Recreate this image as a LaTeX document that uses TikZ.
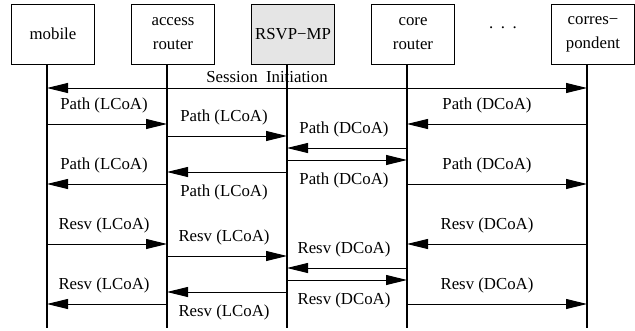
\documentclass[tikz,border=0pt]{standalone}
\usepackage{fontspec}
\setmainfont{Liberation Serif}
\usetikzlibrary{arrows.meta}
\tikzset{
  >={Triangle[length=21pt,width=10pt]},
  unit/.style={draw, line width=1pt, minimum width=83pt, minimum height=60pt,
    inner sep=0pt, align=center, font=\fontsize{16.8}{24}\selectfont},
  life/.style={line width=1.2pt},
  msg/.style={line width=0.9pt, ->},
  lbl/.style={inner sep=0pt, font=\fontsize{16.8}{20}\selectfont},
  up/.style={lbl, above=10.5pt, xshift=-3pt},
  down/.style={lbl, below=12.5pt, xshift=-3pt}
}
\begin{document}
\begin{tikzpicture}[x=1pt,y=-1pt]
    \useasboundingbox (0,0) rectangle (635,330);
    % entities
    \node[unit] (mobile) at (53,34) {mobile};
    \node[unit] (access) at (173,34) {access\\router};
    \node[unit, fill=gray!20] (mp) at (293,34) {RSVP−MP};
    \node[unit] (core) at (413,34) {core\\router};
    \node[unit] (corr) at (593,34) {corres−\\pondent};
    \node[lbl, anchor=base] (dots) at (503,28) {.\hspace{7.5pt}.\hspace{7.5pt}.};
    % lifelines
    \path ([xshift=-6pt]mobile.south) coordinate (lmobile) ++(0,263) coordinate (emobile);
    \path ([xshift=-6pt]access.south) coordinate (laccess) ++(0,263) coordinate (eaccess);
    \path ([xshift=-6pt]mp.south) coordinate (lmp) ++(0,263) coordinate (emp);
    \path ([xshift=-6pt]core.south) coordinate (lcore) ++(0,263) coordinate (ecore);
    \path ([xshift=-6pt]corr.south) coordinate (lcorr) ++(0,263) coordinate (ecorr);
    \draw[life] (lmobile) -- (emobile);
    \draw[life] (laccess) -- (eaccess);
    \draw[life] (lmp) -- (emp);
    \draw[life] (lcore) -- (ecore);
    \draw[life] (lcorr) -- (ecorr);
    % session
    \draw[msg, <->] (lmobile |- 0,88) -- node[lbl, above=4.7pt, xshift=-50pt] {Session\ \ Initiation} (lcorr |- 0,88);
    % path messages
    \draw[msg] (lmobile |- 0,124) -- node[up] {Path (LCoA)} (laccess |- 0,124);
    \draw[msg] (laccess |- 0,136) -- node[up] {Path (LCoA)} (lmp |- 0,136);
    \draw[msg] (lcorr |- 0,124) -- node[up, xshift=-7pt] {Path (DCoA)} (lcore |- 0,124);
    \draw[msg] (lcore |- 0,148) -- node[up] {Path (DCoA)} (lmp |- 0,148);
    \draw[msg] (lmp |- 0,160) -- node[down] {Path (DCoA)} (lcore |- 0,160);
    \draw[msg] (lmp |- 0,172) -- node[down] {Path (LCoA)} (laccess |- 0,172);
    \draw[msg] (laccess |- 0,184) -- node[up] {Path (LCoA)} (lmobile |- 0,184);
    \draw[msg] (lcore |- 0,184) -- node[up, xshift=-7pt] {Path (DCoA)} (lcorr |- 0,184);
    % resv messages
    \draw[msg] (lmobile |- 0,244) -- node[up] {Resv (LCoA)} (laccess |- 0,244);
    \draw[msg] (laccess |- 0,256) -- node[up] {Resv (LCoA)} (lmp |- 0,256);
    \draw[msg] (lcorr |- 0,244) -- node[up, xshift=-7pt] {Resv (DCoA)} (lcore |- 0,244);
    \draw[msg] (lcore |- 0,268) -- node[up] {Resv (DCoA)} (lmp |- 0,268);
    \draw[msg] (lmp |- 0,280) -- node[down] {Resv (DCoA)} (lcore |- 0,280);
    \draw[msg] (lmp |- 0,292) -- node[down] {Resv (LCoA)} (laccess |- 0,292);
    \draw[msg] (laccess |- 0,304) -- node[up] {Resv (LCoA)} (lmobile |- 0,304);
    \draw[msg] (lcore |- 0,304) -- node[up, xshift=-7pt] {Resv (DCoA)} (lcorr |- 0,304);
  \end{tikzpicture}
\end{document}
